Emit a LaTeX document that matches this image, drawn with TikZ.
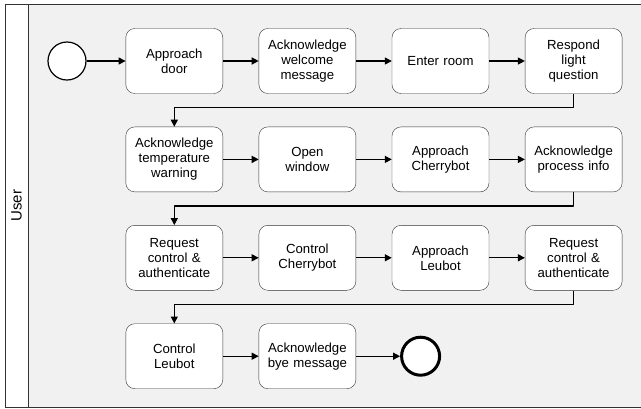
\documentclass[tikz,border=0pt]{standalone}
\usepackage{fontspec}
\setmainfont{Liberation Sans}
\usetikzlibrary{arrows.meta,positioning}
\definecolor{laneink}{HTML}{333333}
\definecolor{lanebg}{HTML}{F1F1F1}

\begin{document}
\begin{tikzpicture}[x=1pt,y=1pt,line join=round,
  font=\fontsize{13.2}{15}\selectfont,node distance=33pt and 35.7pt,
  task/.style={draw=laneink,rounded corners=9pt,fill=white,align=center,
    text width=92pt,minimum width=97pt,minimum height=65pt,inner sep=2pt},
  event/.style={draw=black,circle,fill=white,minimum size=38pt,inner sep=0pt,
    line width=1.2pt},
  endevent/.style={event,line width=3pt},
  arr/.style={-{Triangle[length=7pt,width=7pt]},line width=1.3pt}]
\useasboundingbox (0,0) rectangle (641,-408);
% pool / lane
\fill[lanebg] (5,-4) rectangle (641,-407);
\draw[laneink] (641,-4) -- (5,-4) -- (5,-407) -- (641,-407);
\draw[laneink,fill=white] (5,-4) rectangle (28,-407);
\node[rotate=90,font=\fontsize{15}{17}\selectfont] (lane) at (16.5,-205.5) {User};
% events and tasks
\node[event] (start) at (67,-61) {};
\node[task,right=39pt of start] (t1) {Approach\\door};
\node[task,right=of t1] (t2) {Acknowledge\\welcome\\message};
\node[task,right=of t2] (t3) {Enter room};
\node[task,right=of t3] (t4) {Respond\\light\\question};
\node[task,below=of t1] (t5) {Acknowledge\\temperature\\warning};
\node[task,right=of t5] (t6) {Open\\window};
\node[task,right=of t6] (t7) {Approach\\Cherrybot};
\node[task,right=of t7] (t8) {Acknowledge\\process info};
\node[task,below=of t5] (t9) {Request\\control \&\\authenticate};
\node[task,right=of t9] (t10) {Control\\Cherrybot};
\node[task,right=of t10] (t11) {Approach\\Leubot};
\node[task,right=of t11] (t12) {Request\\control \&\\authenticate};
\node[task,below=of t9] (t13) {Control\\Leubot};
\node[task,right=of t13] (t14) {Acknowledge\\bye message};
\node[endevent,right=44pt of t14] (stop) {};
% sequence flows
\draw[arr] (start)--(t1);
\draw[arr] (t1)--(t2);
\draw[arr] (t2)--(t3);
\draw[arr] (t3)--(t4);
\draw[arr] (t4.south)--++(0,-14) -| (t5.north);
\draw[arr] (t5)--(t6);
\draw[arr] (t6)--(t7);
\draw[arr] (t7)--(t8);
\draw[arr] (t8.south)--++(0,-14) -| (t9.north);
\draw[arr] (t9)--(t10);
\draw[arr] (t10)--(t11);
\draw[arr] (t11)--(t12);
\draw[arr] (t12.south)--++(0,-14) -| (t13.north);
\draw[arr] (t13)--(t14);
\draw[arr] (t14)--(stop);
\end{tikzpicture}
\end{document}
